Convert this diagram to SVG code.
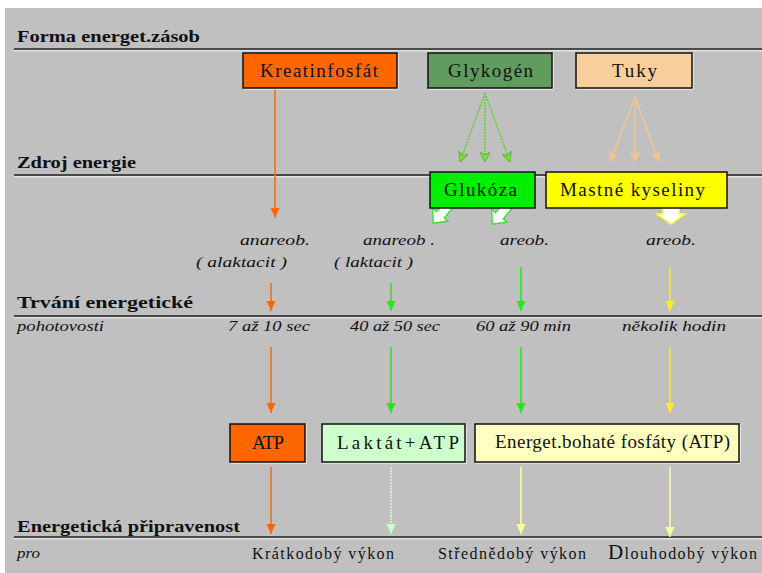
<svg xmlns="http://www.w3.org/2000/svg" width="762" height="573" viewBox="0 0 762 573">
<style>
.hd{font-family:'Liberation Serif','DejaVu Serif',serif;font-weight:bold;font-size:17px;fill:#111}
.bx{font-family:'Liberation Serif','DejaVu Serif',serif;font-size:19px;fill:#111}
.it{font-family:'Liberation Serif','DejaVu Serif',serif;font-style:italic;font-size:15px;fill:#111}
.rg{font-family:'Liberation Serif','DejaVu Serif',serif;font-size:16px;fill:#111}
.box{stroke:#111;stroke-width:1.5}
.hl{stroke:#fff;stroke-width:1;fill:none}
.rule{stroke:#222;stroke-width:1.6}
.ruleW{stroke:#f4f4f4;stroke-width:1}
.c{fill:none;stroke-width:1.5}
</style>
<defs>
<marker id="mO" viewBox="0 0 10 10" refX="10" refY="5" markerWidth="10" markerHeight="10" markerUnits="userSpaceOnUse" orient="auto"><path d="M0,0.5 L10,5 L0,9.5 z" fill="#ff6600"/></marker>
<marker id="mG" viewBox="0 0 10 10" refX="10" refY="5" markerWidth="10" markerHeight="10" markerUnits="userSpaceOnUse" orient="auto"><path d="M0,0.5 L10,5 L0,9.5 z" fill="#1ee81e"/></marker>
<marker id="mY" viewBox="0 0 10 10" refX="10" refY="5" markerWidth="10" markerHeight="10" markerUnits="userSpaceOnUse" orient="auto"><path d="M0,0.5 L10,5 L0,9.5 z" fill="#ffee11"/></marker>
<marker id="mLG" viewBox="0 0 10 10" refX="10" refY="5" markerWidth="10" markerHeight="10" markerUnits="userSpaceOnUse" orient="auto"><path d="M0,0.5 L10,5 L0,9.5 z" fill="#ccffcc"/></marker>
<marker id="mLY" viewBox="0 0 10 10" refX="10" refY="5" markerWidth="10" markerHeight="10" markerUnits="userSpaceOnUse" orient="auto"><path d="M0,0.5 L10,5 L0,9.5 z" fill="#ffff99"/></marker>
<marker id="mP" viewBox="0 0 10 10" refX="10" refY="5" markerWidth="11" markerHeight="11" markerUnits="userSpaceOnUse" orient="auto"><path d="M0,0 L10,5 L0,10 L3,5 z" fill="#f5c590"/></marker>
<marker id="mK" viewBox="0 0 10 10" refX="10" refY="5" markerWidth="10" markerHeight="10" markerUnits="userSpaceOnUse" orient="auto"><path d="M0,0 L10,5 L0,10 L3,5 z" fill="#88dd33" stroke="#55bb33" stroke-width="1"/></marker>
</defs>

<rect x="5" y="8" width="757" height="565" fill="#c0c0c0"/>

<g id="rules">
<line class="rule" x1="14" y1="49" x2="762" y2="49"/><line class="ruleW" x1="14" y1="50.8" x2="762" y2="50.8"/>
<line class="rule" x1="14" y1="175" x2="762" y2="175"/><line class="ruleW" x1="14" y1="176.8" x2="762" y2="176.8"/>
<line class="rule" x1="14" y1="316" x2="762" y2="316"/><line class="ruleW" x1="14" y1="317.8" x2="762" y2="317.8"/>
<line class="rule" x1="14" y1="537" x2="762" y2="537"/><line class="ruleW" x1="14" y1="538.8" x2="762" y2="538.8"/>
</g>

<g id="headings">
<text class="hd" x="17" y="42" textLength="183" lengthAdjust="spacingAndGlyphs">Forma energet.zásob</text>
<text class="hd" x="17" y="168" textLength="119" lengthAdjust="spacingAndGlyphs">Zdroj energie</text>
<text class="hd" x="17" y="308" textLength="176" lengthAdjust="spacingAndGlyphs">Trvání energetické</text>
<text class="it" x="17" y="331" textLength="87" lengthAdjust="spacingAndGlyphs">pohotovosti</text>
<text class="hd" x="17" y="532" textLength="223" lengthAdjust="spacingAndGlyphs">Energetická připravenost</text>
<text class="it" x="17" y="558" textLength="23" lengthAdjust="spacingAndGlyphs">pro</text>
</g>

<g id="connectors">
<line class="c" x1="275" y1="89" x2="275" y2="218" stroke="#ff6600" marker-end="url(#mO)"/>
<line class="c" x1="485" y1="93" x2="460" y2="162" stroke="#66cc33" stroke-dasharray="2 1" marker-end="url(#mK)"/>
<line class="c" x1="485" y1="93" x2="485" y2="162" stroke="#66cc33" stroke-dasharray="2 1" marker-end="url(#mK)"/>
<line class="c" x1="485" y1="93" x2="510" y2="162" stroke="#66cc33" stroke-dasharray="2 1" marker-end="url(#mK)"/>
<line class="c" x1="635" y1="97" x2="610" y2="162" stroke="#f5c590" marker-end="url(#mP)"/>
<line class="c" x1="635" y1="97" x2="635" y2="162" stroke="#f5c590" marker-end="url(#mP)"/>
<line class="c" x1="635" y1="97" x2="659" y2="162" stroke="#f5c590" marker-end="url(#mP)"/>

<line class="c" x1="271" y1="283" x2="271" y2="311" stroke="#ff6600" marker-end="url(#mO)"/>
<line class="c" x1="391" y1="283" x2="391" y2="311" stroke="#1ee81e" marker-end="url(#mG)"/>
<line class="c" x1="521" y1="267" x2="521" y2="311" stroke="#1ee81e" marker-end="url(#mG)"/>
<line class="c" x1="670" y1="267" x2="670" y2="311" stroke="#ffee11" marker-end="url(#mY)"/>

<line class="c" x1="271" y1="347" x2="271" y2="413" stroke="#ff6600" marker-end="url(#mO)"/>
<line class="c" x1="391" y1="347" x2="391" y2="413" stroke="#1ee81e" marker-end="url(#mG)"/>
<line class="c" x1="521" y1="347" x2="521" y2="413" stroke="#1ee81e" marker-end="url(#mG)"/>
<line class="c" x1="670" y1="347" x2="670" y2="413" stroke="#ffee11" marker-end="url(#mY)"/>

<line class="c" x1="271" y1="467" x2="271" y2="534" stroke="#ff6600" marker-end="url(#mO)"/>
<line class="c" x1="391" y1="467" x2="391" y2="534" stroke="#ccffcc" stroke-dasharray="2 1" marker-end="url(#mLG)"/>
<line class="c" x1="521" y1="467" x2="521" y2="534" stroke="#ffff99" marker-end="url(#mLY)"/>
<line class="c" x1="670" y1="467" x2="670" y2="537" stroke="#ffff99" marker-end="url(#mLY)"/>

<path d="M-5,-12 L5,-12 L5,1 L10,1 L0,12 L-10,1 L-5,1 Z" transform="translate(441,214) rotate(40)" fill="#fff" stroke="#33dd33" stroke-width="1.3"/>
<path d="M-5,-12 L5,-12 L5,1 L10,1 L0,12 L-10,1 L-5,1 Z" transform="translate(500,215) rotate(40)" fill="#fff" stroke="#33dd33" stroke-width="1.3"/>
<path d="M-8,-11 L8,-11 L8,1 L14,1 L0,11 L-14,1 L-8,1 Z" transform="translate(671,213)" fill="#fff" stroke="#ffff33" stroke-width="1.5"/>
</g>

<g id="kreatinfosfat">
<rect class="hl" x="244" y="54" width="154" height="35"/>
<rect class="box" x="243" y="53" width="154" height="35" fill="#ff6600"/>
<text class="bx" x="260" y="77" textLength="118" lengthAdjust="spacing">Kreatinfosfát</text>
</g>
<g id="glykogen">
<rect class="hl" x="429" y="54" width="124" height="35"/>
<rect class="box" x="428" y="53" width="124" height="35" fill="#619c5f"/>
<text class="bx" x="448" y="77" textLength="85" lengthAdjust="spacing">Glykogén</text>
</g>
<g id="tuky">
<rect class="hl" x="577" y="54" width="116" height="35"/>
<rect class="box" x="576" y="53" width="116" height="35" fill="#f8cf9a"/>
<text class="bx" x="612" y="77" textLength="45" lengthAdjust="spacing">Tuky</text>
</g>
<g id="glukoza">
<rect class="box" x="430" y="172" width="105" height="36" fill="#00ee00"/>
<text class="bx" x="444" y="196" textLength="73" lengthAdjust="spacing">Glukóza</text>
</g>
<g id="mastne">
<rect class="box" x="546" y="172" width="181" height="36" fill="#ffff00"/>
<text class="bx" x="560" y="196" textLength="145" lengthAdjust="spacing">Mastné kyseliny</text>
</g>

<g id="labels">
<text class="it" x="240" y="245" textLength="70" lengthAdjust="spacingAndGlyphs">anareob.</text>
<text class="it" x="196" y="267" textLength="91" lengthAdjust="spacingAndGlyphs">( alaktacit )</text>
<text class="it" x="363" y="245" textLength="72" lengthAdjust="spacingAndGlyphs">anareob .</text>
<text class="it" x="334" y="267" textLength="79" lengthAdjust="spacingAndGlyphs">( laktacit )</text>
<text class="it" x="500" y="245" textLength="49" lengthAdjust="spacingAndGlyphs">areob.</text>
<text class="it" x="646" y="245" textLength="50" lengthAdjust="spacingAndGlyphs">areob.</text>
<text class="it" x="228" y="331" textLength="82" lengthAdjust="spacingAndGlyphs">7 až 10 sec</text>
<text class="it" x="350" y="331" textLength="90" lengthAdjust="spacingAndGlyphs">40 až 50 sec</text>
<text class="it" x="476" y="331" textLength="95" lengthAdjust="spacingAndGlyphs">60 až 90 min</text>
<text class="it" x="622" y="331" textLength="104" lengthAdjust="spacingAndGlyphs">několik hodin</text>
<text class="rg" x="252" y="559" textLength="142" lengthAdjust="spacing">Krátkodobý výkon</text>
<text class="rg" x="438" y="559" textLength="148" lengthAdjust="spacing">Střednědobý výkon</text>
<text class="rg" x="608" y="559" textLength="149" lengthAdjust="spacing"><tspan font-size="21">D</tspan>louhodobý výkon</text>
</g>

<g id="atp">
<rect class="hl" x="231" y="425" width="75" height="38"/>
<rect class="box" x="230" y="424" width="75" height="38" fill="#ff6600"/>
<text class="bx" x="252" y="449" textLength="32" lengthAdjust="spacing">ATP</text>
</g>
<g id="laktat">
<rect class="hl" x="323" y="425" width="143" height="38"/>
<rect class="box" x="322" y="424" width="143" height="38" fill="#ccffcc"/>
<text class="bx" x="337" y="449" textLength="122" lengthAdjust="spacing">Laktát+ATP</text>
</g>
<g id="fosfaty">
<rect class="hl" x="476" y="425" width="264" height="38"/>
<rect class="box" x="475" y="424" width="264" height="38" fill="#ffffc0"/>
<text class="bx" x="495" y="448" font-size="15" textLength="235" lengthAdjust="spacing">Energet.bohaté fosfáty (ATP)</text>
</g>
</svg>
